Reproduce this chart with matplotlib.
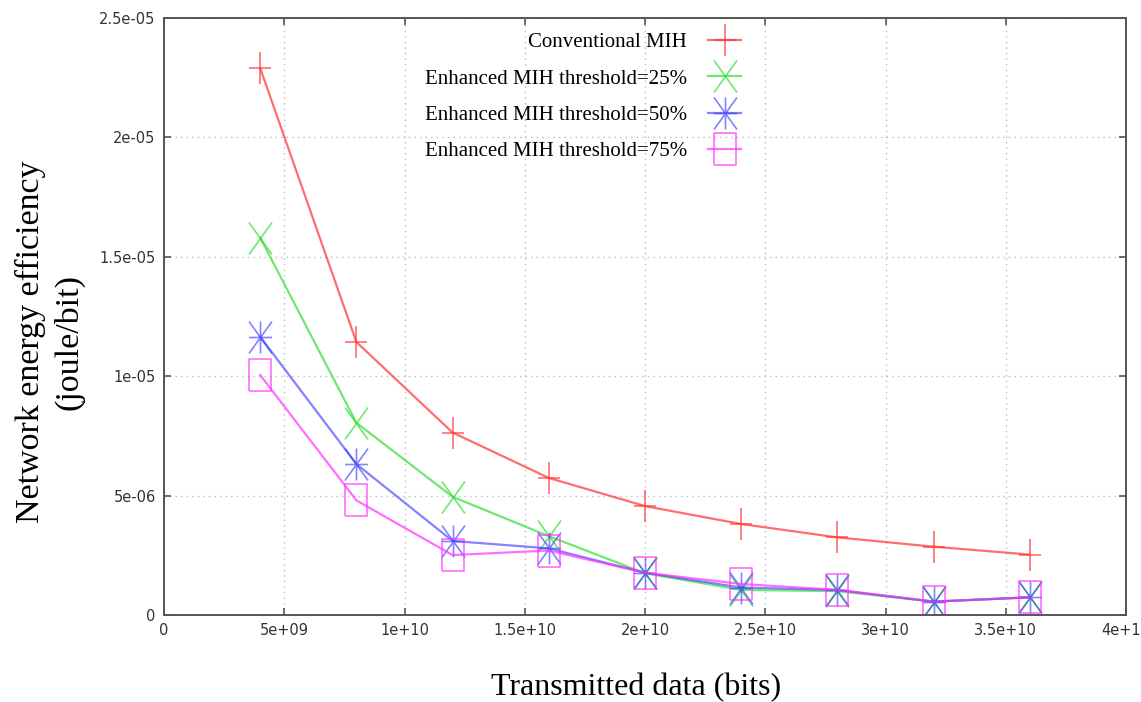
import numpy as np
import matplotlib; matplotlib.use("Agg"); import matplotlib.pyplot as plt
from matplotlib.path import Path
from matplotlib.ticker import FixedLocator, FixedFormatter

# -------- Data --------
data_bits = [4e9, 8e9, 1.2e10, 1.6e10, 2e10, 2.4e10, 2.8e10, 3.2e10, 3.6e10]
conventional = [2.29e-5, 1.143e-5, 0.764e-5, 0.574e-5, 0.456e-5, 0.381e-5, 0.325e-5, 0.286e-5, 0.253e-5]
thr25 = [1.58e-5, 0.805e-5, 0.495e-5, 0.33e-5, 0.175e-5, 0.105e-5, 0.10e-5, 0.056e-5, 0.074e-5]
thr50 = [1.165e-5, 0.632e-5, 0.31e-5, 0.279e-5, 0.177e-5, 0.115e-5, 0.105e-5, 0.056e-5, 0.074e-5]
thr75 = [1.005e-5, 0.48e-5, 0.251e-5, 0.27e-5, 0.177e-5, 0.13e-5, 0.105e-5, 0.056e-5, 0.074e-5]
labels = ["Conventional MIH", "Enhanced MIH threshold=25%",
          "Enhanced MIH threshold=50%", "Enhanced MIH threshold=75%"]

xticks = [0, 5e9, 1e10, 1.5e10, 2e10, 2.5e10, 3e10, 3.5e10, 4e10]
xtick_labels = ["0", "5e+09", "1e+10", "1.5e+10", "2e+10", "2.5e+10", "3e+10", "3.5e+10", "4e+10"]
yticks = [0, 5e-6, 1e-5, 1.5e-5, 2e-5, 2.5e-5]
ytick_labels = ["0", "5e-06", "1e-05", "1.5e-05", "2e-05", "2.5e-05"]

# -------- gnuplot-like markers (a bit taller than wide) --------
W, H = 0.36, 0.5
M, L = Path.MOVETO, Path.LINETO
plus_m = Path([(0, -H), (0, H), (-W, 0), (W, 0)], [M, L, M, L])
cross_m = Path([(-W, -H), (W, H), (-W, H), (W, -H)], [M, L, M, L])
star_m = Path([(0, -H), (0, H), (-W, 0), (W, 0), (-W, -H), (W, H), (-W, H), (W, -H)],
              [M, L, M, L, M, L, M, L])
box_m = Path([(-W, -H), (W, -H), (W, H), (-W, H), (-W, -H)], [M, L, L, L, L])

series = [
    (conventional, "#ff3030", plus_m, 0.7),
    (thr25, "#22dd22", cross_m, 0.65),
    (thr50, "#3030ff", star_m, 0.6),
    (thr75, "#ff30ff", box_m, 0.7),
]

fig = plt.figure(figsize=(11.41, 7.02), dpi=100)
ax = fig.add_axes([164 / 1141, 1 - 615 / 702, (1126 - 164) / 1141, (615 - 18) / 702])

handles = []
for (vals, col, mk, al), lab in zip(series, labels):
    h, = ax.plot(data_bits, vals, color=col, alpha=al, lw=1.6, marker=mk, markersize=23,
                 mfc="none", mec=col, mew=1.2, label=lab)
    handles.append(h)

ax.set_xlim(0, 4e10)
ax.set_ylim(0, 2.5e-5)
ax.xaxis.set_major_locator(FixedLocator(xticks))
ax.xaxis.set_major_formatter(FixedFormatter(xtick_labels))
ax.yaxis.set_major_locator(FixedLocator(yticks))
ax.yaxis.set_major_formatter(FixedFormatter(ytick_labels))
ax.tick_params(direction="in", length=5, width=1.2, color="#555555", labelcolor="#333333",
               labelsize=10.5, top=True, right=True, pad=6)
for s in ax.spines.values():
    s.set_color("#555555"); s.set_linewidth(1.4)
ax.grid(True, color="#bbbbbb", ls=(0, (1, 3)), lw=1.0)

leg = ax.legend(handles=handles, loc="upper right", bbox_to_anchor=(760 / 1141, 1 - 14 / 702),
                bbox_transform=fig.transFigure, frameon=False, markerfirst=False, numpoints=1,
                handlelength=1.6, labelspacing=0.8, handletextpad=1.0,
                prop={"family": "Liberation Serif", "size": 15})

fig.text(50 / 1141, 1 - 342 / 702, "Network energy efficiency\n(joule/bit)", rotation=90,
         ha="center", va="center", multialignment="center", linespacing=1.3,
         family="Liberation Serif", fontsize=24.5)
fig.text(636 / 1141, 1 - 688 / 702, "Transmitted data (bits)", ha="center", va="center",
         family="Liberation Serif", fontsize=23)

fig.savefig("out.png", dpi=100)
